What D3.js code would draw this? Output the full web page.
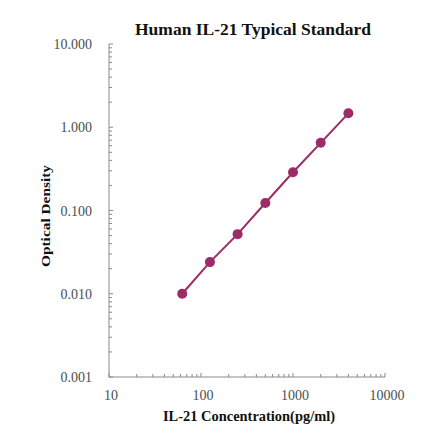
<!DOCTYPE html>
<meta charset="utf-8">
<style>
body { margin: 0; background: #fff; }
.tick-label { font-family: "Liberation Serif", serif; font-size: 14px; fill: #4a4f4f; }
.title { font-family: "Liberation Serif", serif; font-weight: bold; fill: #111; }
</style>
<body></body>
<script src="https://cdn.jsdelivr.net/npm/d3@7"></script>
<script>
// standard curve values
var concentration = [62.5, 125, 250, 500, 1000, 2000, 4000];
var density = [0.010, 0.024, 0.052, 0.123, 0.288, 0.65, 1.47];
var xTicks = [10, 100, 1000, 10000];
var yTicks = [0.001, 0.01, 0.1, 1, 10];

var W = 440, H = 441;
var plotL = 109, plotR = 385, plotT = 44, plotB = 377;

var svg = d3.select("body").append("svg")
    .attr("width", W).attr("height", H);

var x = d3.scaleLog().domain([10, 10000]).range([plotL, plotR]);
var y = d3.scaleLog().domain([0.001, 10]).range([plotB, plotT]);

// minor ticks 2..9 in every decade
function minors(lo, hi) {
  var out = [];
  for (var e = Math.round(Math.log10(lo)); e < Math.round(Math.log10(hi)); e++) {
    for (var k = 2; k <= 9; k++) out.push(k * Math.pow(10, e));
  }
  return out;
}

var axisColor = "#8a8a8a";

// axes lines
svg.append("line").attr("x1", plotL).attr("x2", plotL).attr("y1", plotT).attr("y2", plotB)
  .attr("stroke", axisColor).attr("stroke-width", 1);
svg.append("line").attr("x1", plotL).attr("x2", plotR).attr("y1", plotB).attr("y2", plotB)
  .attr("stroke", axisColor).attr("stroke-width", 1);

// y ticks (pointing inside)
svg.selectAll(".ymin").data(minors(0.001, 10)).enter().append("line")
  .attr("x1", plotL).attr("x2", plotL + 3)
  .attr("y1", d => y(d)).attr("y2", d => y(d))
  .attr("stroke", axisColor);
svg.selectAll(".ymaj").data(yTicks).enter().append("line")
  .attr("x1", plotL).attr("x2", plotL + 4)
  .attr("y1", d => y(d)).attr("y2", d => y(d))
  .attr("stroke", axisColor);

// x ticks
svg.selectAll(".xmin").data(minors(10, 10000)).enter().append("line")
  .attr("y1", plotB).attr("y2", plotB - 3)
  .attr("x1", d => x(d)).attr("x2", d => x(d))
  .attr("stroke", axisColor);
svg.selectAll(".xmaj").data(xTicks).enter().append("line")
  .attr("y1", plotB).attr("y2", plotB - 4)
  .attr("x1", d => x(d)).attr("x2", d => x(d))
  .attr("stroke", axisColor);

// tick labels
svg.selectAll(".ylab").data(yTicks).enter().append("text")
  .attr("class", "tick-label")
  .attr("x", 92).attr("y", d => y(d) + 5)
  .attr("text-anchor", "end")
  .text(d => d3.format(".3f")(d));
svg.selectAll(".xlab").data(xTicks).enter().append("text")
  .attr("class", "tick-label")
  .attr("x", d => x(d) + 2).attr("y", 400)
  .attr("text-anchor", "middle")
  .text(d => d);

// titles
svg.append("text").attr("class", "title")
  .attr("x", 253).attr("y", 35).attr("text-anchor", "middle")
  .style("font-size", "17px")
  .attr("textLength", 236).attr("lengthAdjust", "spacingAndGlyphs")
  .text("Human  IL-21 Typical Standard");
svg.append("text").attr("class", "title")
  .attr("x", 249).attr("y", 421).attr("text-anchor", "middle")
  .style("font-size", "14px")
  .attr("textLength", 172).attr("lengthAdjust", "spacingAndGlyphs")
  .text("IL-21 Concentration(pg/ml)");
svg.append("text").attr("class", "title")
  .attr("transform", "translate(50,216) rotate(-90)")
  .attr("text-anchor", "middle")
  .style("font-size", "13px")
  .attr("textLength", 102).attr("lengthAdjust", "spacingAndGlyphs")
  .text("Optical Density");

// curve
var pts = concentration.map((c, i) => [c, density[i]]);
var purple = "#9c2b68";
svg.append("path").datum(pts)
  .attr("fill", "none").attr("stroke", purple).attr("stroke-width", 2)
  .attr("d", d3.line().x(d => x(d[0])).y(d => y(d[1])));
svg.selectAll(".dot").data(pts).enter().append("circle")
  .attr("cx", d => x(d[0])).attr("cy", d => y(d[1]))
  .attr("r", 5).attr("fill", purple);
</script>
